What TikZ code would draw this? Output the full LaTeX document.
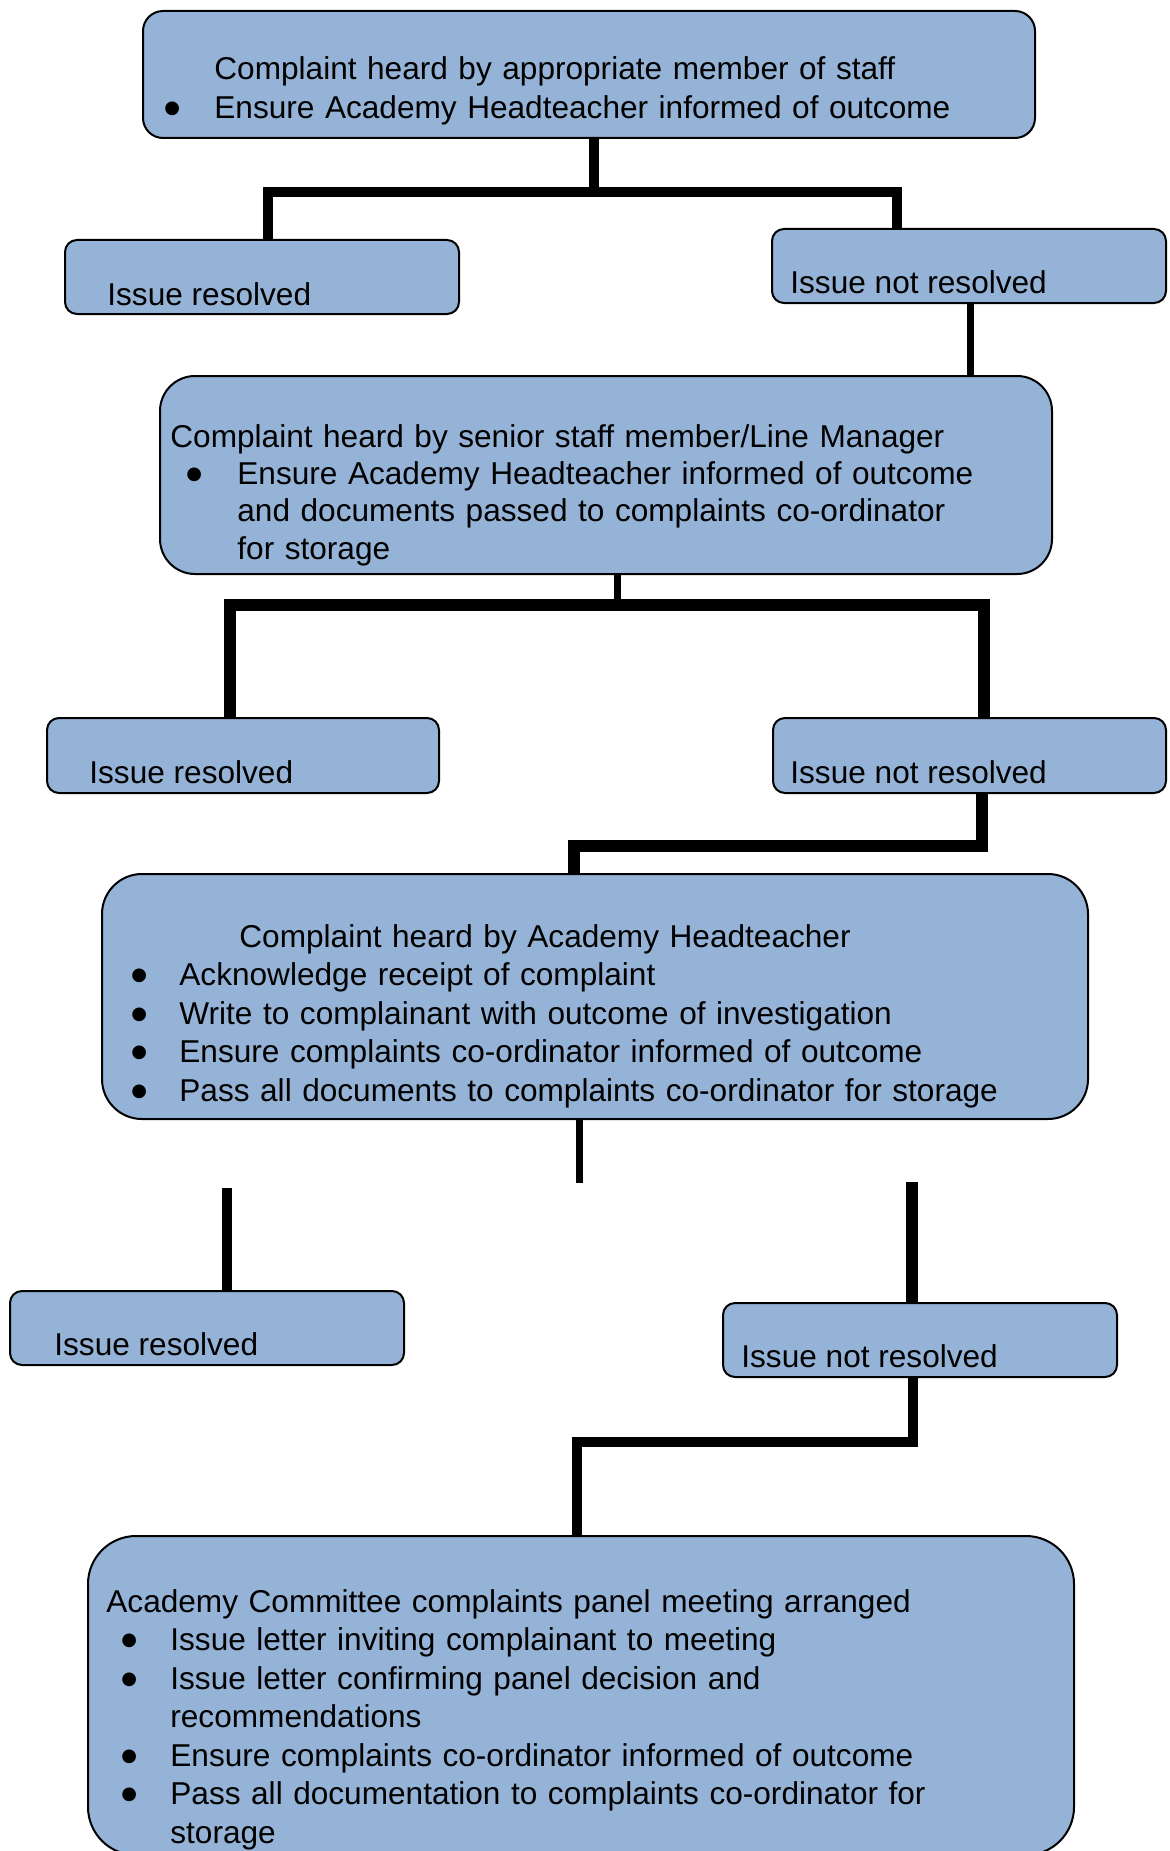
\documentclass[tikz,border=0pt]{standalone}
\usepackage{fontspec}
\setmainfont{Liberation Sans}
\newfontfamily\dotfont{DejaVu Sans}
\definecolor{boxblue}{HTML}{95B3D7}
\newcommand{\bul}[1]{\makebox[#1][l]{\raisebox{2.3pt}{\fontsize{9pt}{9pt}\dotfont ●}}}

\begin{document}
\begin{tikzpicture}[x=0.5pt,y=-0.5pt]


\tikzset{
	panel/.style={draw=black, line width=1pt, fill=boxblue, rounded corners=#1,
		anchor=north west, inner sep=0pt},
	outcome/.style={panel=6pt, minimum width=197pt, minimum height=37pt},
	txt/.style={anchor=base west, inner sep=0pt, font=\fontsize{15.8pt}{19.25pt}\selectfont},
	blocktxt/.style={txt, align=left, text width=440pt},
	link/.style={line width=5pt},
	thinlink/.style={line width=3.5pt},
	heavylink/.style={line width=6pt}
}

\useasboundingbox (0,0) rectangle (1169,1851);
\clip (0,0) rectangle (1169,1851);

% first stage
\node[panel=10pt, minimum width=446pt, minimum height=63.5pt] (staff) at (142,10) {};
\node[blocktxt] (stafftxt) at (164,80) {\hspace*{25pt}Complaint heard by appropriate member of staff\\
	\bul{25pt}Ensure Academy Headteacher informed of outcome};

\node[outcome] (res1) at (64,239) {};
\node[txt] (res1txt) at (107,305) {Issue resolved};
\node[outcome] (nres1) at (771,228) {};
\node[txt] (nres1txt) at (790,293) {Issue not resolved};

% second stage
\node[panel=17.5pt, minimum width=446pt, minimum height=99pt] (senior) at (159,375) {};
\node[blocktxt, font=\fontsize{15.8pt}{18.7pt}\selectfont] (seniortxt) at (170,447) {Complaint heard by senior staff member/Line Manager\\
	\hspace*{8pt}\bul{25.5pt}Ensure Academy Headteacher informed of outcome\\
	\hspace*{33.5pt}and documents passed to complaints co-ordinator\\
	\hspace*{33.5pt}for storage};

\node[outcome, minimum width=196pt, minimum height=37.5pt] (res2) at (46,717) {};
\node[txt] (res2txt) at (89,783) {Issue resolved};
\node[outcome, minimum width=196.5pt, minimum height=37.5pt] (nres2) at (772,717) {};
\node[txt] (nres2txt) at (790,783) {Issue not resolved};

% third stage
\node[panel=20pt, minimum width=493pt, minimum height=122.5pt] (head) at (101,873) {};
\node[blocktxt] (headtxt) at (131,947) {\hspace*{54pt}Complaint heard by Academy Headteacher\\
	\bul{24pt}Acknowledge receipt of complaint\\
	\bul{24pt}Write to complainant with outcome of investigation\\
	\bul{24pt}Ensure complaints co-ordinator informed of outcome\\
	\bul{24pt}Pass all documents to complaints co-ordinator for storage};

\node[outcome] (res3) at (9,1290) {};
\node[txt] (res3txt) at (54,1355) {Issue resolved};
\node[outcome] (nres3) at (722,1302) {};
\node[txt] (nres3txt) at (741,1367) {Issue not resolved};

% panel stage
\node[panel=24pt, minimum width=493pt, minimum height=159.5pt] (panel) at (87,1535) {};
\node[blocktxt] (paneltxt) at (106,1612) {Academy Committee complaints panel meeting arranged\\
	\hspace*{7.5pt}\bul{24.5pt}Issue letter inviting complainant to meeting\\
	\hspace*{7.5pt}\bul{24.5pt}Issue letter confirming panel decision and\\
	\hspace*{32pt}recommendations\\
	\hspace*{7.5pt}\bul{24.5pt}Ensure complaints co-ordinator informed of outcome\\
	\hspace*{7.5pt}\bul{24.5pt}Pass all documentation to complaints co-ordinator for\\
	\hspace*{32pt}storage};

% connectors
\coordinate (j1) at (594,192);
\coordinate (j1l) at (268,192);
\coordinate (j1r) at (897,192);
\draw[link] (staff.south -| j1) -- (j1);
\draw[link] (res1.north -| j1l) |- (j1r) -- (nres1.north -| j1r);

\coordinate (c2) at (970,340);
\draw[thinlink] (nres1.south -| c2) -- (senior.north -| c2);

\coordinate (j3) at (617,605);
\coordinate (j3l) at (230,605);
\coordinate (j3r) at (984,605);
\draw[thinlink] (senior.south -| j3) -- (j3);
\draw[heavylink] (res2.north -| j3l) |- (j3r) -- (nres2.north -| j3r);

\coordinate (j4) at (982,846);
\coordinate (j4l) at (574,846);
\draw[heavylink] (nres2.south -| j4) |- (j4l) -- (head.north -| j4l);

\coordinate (e5) at (579,1183);
\coordinate (s5l) at (227,1188);
\coordinate (s5r) at (912,1182);
\draw[thinlink] (head.south -| e5) -- (e5);
\draw[link] (s5l) -- (res3.north -| s5l);
\draw[heavylink] (s5r) -- (nres3.north -| s5r);

\coordinate (j6) at (913,1442);
\coordinate (j6l) at (577,1442);
\draw[link] (nres3.south -| j6) |- (j6l) -- (panel.north -| j6l);

\end{tikzpicture}
\end{document}
